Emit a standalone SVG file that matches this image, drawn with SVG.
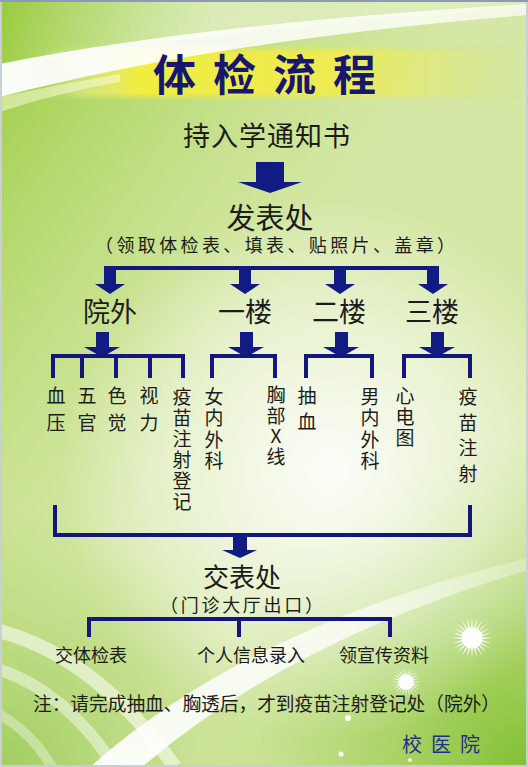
<svg xmlns="http://www.w3.org/2000/svg" xmlns:xlink="http://www.w3.org/1999/xlink" width="528" height="767" viewBox="0 0 528 767">
<defs>
<style>
.t{font-family:"Noto Sans CJK SC","Noto Sans",sans-serif;fill:#1c1c1c;}
.v{font-family:"Noto Sans CJK SC","Noto Sans",sans-serif;fill:#1c1c1c;font-size:19px;text-anchor:middle;}
.ln{fill:none;stroke:#13167a;stroke-width:4;stroke-linejoin:miter;stroke-linecap:butt;}
.ar{fill:#101c84;}
</style>
<linearGradient id="gTL" x1="0" y1="0" x2="1" y2="1">
<stop offset="0" stop-color="#97cb3c" stop-opacity="1"/>
<stop offset="0.45" stop-color="#b9db72" stop-opacity="0"/>
</linearGradient>
<radialGradient id="gW" cx="330" cy="470" r="270" gradientUnits="userSpaceOnUse">
<stop offset="0" stop-color="#ffffff" stop-opacity="0.95"/>
<stop offset="0.6" stop-color="#ffffff" stop-opacity="0.45"/>
<stop offset="1" stop-color="#ffffff" stop-opacity="0"/>
</radialGradient>
<radialGradient id="gBR" cx="528" cy="767" r="330" gradientUnits="userSpaceOnUse">
<stop offset="0" stop-color="#82c032" stop-opacity="1"/>
<stop offset="1" stop-color="#9ccd4a" stop-opacity="0"/>
</radialGradient>
<radialGradient id="gBL" cx="0" cy="767" r="260" gradientUnits="userSpaceOnUse">
<stop offset="0" stop-color="#9ccb5a" stop-opacity="0.9"/>
<stop offset="1" stop-color="#a8d060" stop-opacity="0"/>
</radialGradient>
<linearGradient id="gY" x1="0" y1="0" x2="1" y2="0">
<stop offset="0" stop-color="#fffbd0" stop-opacity="0"/>
<stop offset="0.2" stop-color="#f6ef3a" stop-opacity="0.9"/>
<stop offset="0.6" stop-color="#f1ec4a" stop-opacity="0.9"/>
<stop offset="1" stop-color="#e6ec70" stop-opacity="0"/>
</linearGradient>
<linearGradient id="gYv" x1="0" y1="0" x2="0" y2="1">
<stop offset="0" stop-color="#fff" stop-opacity="0"/>
<stop offset="0.15" stop-color="#fff" stop-opacity="1"/>
<stop offset="0.85" stop-color="#fff" stop-opacity="1"/>
<stop offset="1" stop-color="#fff" stop-opacity="0"/>
</linearGradient>
<mask id="mY" maskUnits="userSpaceOnUse" x="0" y="40" width="528" height="66">
<rect x="0" y="45" width="528" height="56" fill="url(#gYv)"/>
</mask>
<linearGradient id="gS" x1="0" y1="0" x2="1" y2="0">
<stop offset="0" stop-color="#ffffff" stop-opacity="0.95"/>
<stop offset="0.5" stop-color="#ffffff" stop-opacity="0.85"/>
<stop offset="1" stop-color="#ffffff" stop-opacity="0.7"/>
</linearGradient>
<linearGradient id="gTop" x1="0" y1="0" x2="1" y2="0">
<stop offset="0" stop-color="#ffffff" stop-opacity="0"/>
<stop offset="0.4" stop-color="#ffffff" stop-opacity="0.45"/>
<stop offset="1" stop-color="#ffffff" stop-opacity="0.2"/>
</linearGradient>
<linearGradient id="gB" x1="0" y1="1" x2="1" y2="0">
<stop offset="0" stop-color="#ffffff" stop-opacity="0.95"/>
<stop offset="0.6" stop-color="#ffffff" stop-opacity="0.75"/>
<stop offset="1" stop-color="#ffffff" stop-opacity="0.25"/>
</linearGradient>
<polygon id="ray" points="0,-1 0.07,0 0,1 -0.07,0" fill="#ffffff"/>
<g id="spark">
<use xlink:href="#ray"/>
<use xlink:href="#ray" transform="rotate(15)"/>
<use xlink:href="#ray" transform="rotate(30)"/>
<use xlink:href="#ray" transform="rotate(45)"/>
<use xlink:href="#ray" transform="rotate(60)"/>
<use xlink:href="#ray" transform="rotate(75)"/>
<use xlink:href="#ray" transform="rotate(90)"/>
<use xlink:href="#ray" transform="rotate(105)"/>
<use xlink:href="#ray" transform="rotate(120)"/>
<use xlink:href="#ray" transform="rotate(135)"/>
<use xlink:href="#ray" transform="rotate(150)"/>
<use xlink:href="#ray" transform="rotate(165)"/>
<circle r="0.5" fill="#ffffff"/>
</g>
</defs>

<g id="background">
<rect width="528" height="767" fill="#d4e7a4"/>
<rect width="528" height="767" fill="url(#gTL)"/>
<rect width="528" height="767" fill="url(#gBR)"/>
<rect width="528" height="767" fill="url(#gBL)"/>
<rect width="528" height="767" fill="url(#gW)"/>
<path d="M0 0 H528 V8 Q220 28 0 66 Z" fill="url(#gTop)"/>
<rect x="40" y="45" width="488" height="56" fill="url(#gY)" mask="url(#mY)"/>
<path d="M0 64 Q200 24 528 4 L528 15 Q220 40 0 97 Z" fill="url(#gS)"/>
<path d="M0 97 Q60 84 120 74 L120 82 Q60 92 0 112 Z" fill="#fffbe0" opacity="0.5"/>
<path d="M-5 630 Q95 655 175 767" fill="none" stroke="#ffffff" stroke-opacity="0.55" stroke-width="14"/>
<path d="M-5 668 Q65 690 115 767" fill="none" stroke="#ffffff" stroke-opacity="0.45" stroke-width="12"/>
<path d="M-5 712 Q30 730 52 767" fill="none" stroke="#ffffff" stroke-opacity="0.35" stroke-width="10"/>
<path d="M90 767 Q250 625 528 558 L528 570 Q290 640 142 767 Z" fill="url(#gB)"/>
<use xlink:href="#spark" transform="translate(472,638) scale(21)"/>
<use xlink:href="#spark" transform="translate(406,682) scale(15)"/>
<circle cx="348" cy="718" r="3" fill="#ffffff"/>
<circle cx="341" cy="754" r="2.5" fill="#ffffff"/>
<circle cx="410" cy="760" r="2" fill="#ffffff" opacity="0.8"/>
<rect x="1" y="1" width="526" height="765" fill="none" stroke="#c9cfd6" stroke-width="2"/>
<rect x="0" y="0" width="528" height="2" fill="#8e98bb"/>
</g>

<g id="connectors">
<path class="ar" d="M256 162 H284 V182 H302 L270 193 L238 182 H256 Z"/>
<path class="ln" d="M104 268 H439"/>
<path class="ar" d="M104 266 H116 V284 H125 L110 294 L95 284 H104 Z"/>
<path class="ar" d="M239 266 H251 V284 H260 L245 294 L230 284 H239 Z"/>
<path class="ar" d="M334 266 H346 V284 H355 L340 294 L325 284 H334 Z"/>
<path class="ar" d="M427 266 H439 V284 H448 L433 294 L418 284 H427 Z"/>
<path class="ar" d="M96 332 H109 V347 H120 L102 357 L84 347 H96 Z"/>
<path class="ar" d="M240 332 H253 V347 H264 L246 357 L228 347 H240 Z"/>
<path class="ar" d="M335 332 H348 V347 H359 L341 357 L323 347 H335 Z"/>
<path class="ar" d="M431 332 H444 V347 H455 L437 357 L419 347 H431 Z"/>
<path class="ln" d="M53 378 V356 H183 V378 M82 356 V378 M116 356 V378 M150 356 V378"/>
<path class="ln" d="M212 378 V356 H275 V378"/>
<path class="ln" d="M306 378 V356 H372 V378"/>
<path class="ln" d="M404 378 V356 H470 V378"/>
<path class="ln" d="M55 505 V535 H470 V505"/>
<path class="ar" d="M233 535 H247 V550 H257 L240 558 L222 550 H233 Z"/>
<path class="ln" d="M89 637 V619 H390 V637 M239 619 V637"/>
</g>

<g id="title"><text class="t" x="153" y="91" font-size="43" font-weight="bold" letter-spacing="17" style="fill:#17176f">体检流程</text></g>
<g id="n-notice"><text class="t" x="267" y="146" font-size="27" text-anchor="middle" letter-spacing="1">持入学通知书</text></g>
<g id="n-fabiao">
<text class="t" x="270" y="229" font-size="29" text-anchor="middle">发表处</text>
<text class="t" x="95" y="252" font-size="18" textLength="360" lengthAdjust="spacing">（领取体检表、填表、贴照片、盖章）</text>
</g>
<g id="n-yuanwai"><text class="t" x="110" y="322" font-size="27" text-anchor="middle">院外</text></g>
<g id="n-yilou"><text class="t" x="245" y="322" font-size="27" text-anchor="middle">一楼</text></g>
<g id="n-erlou"><text class="t" x="339" y="322" font-size="27" text-anchor="middle">二楼</text></g>
<g id="n-sanlou"><text class="t" x="432" y="322" font-size="27" text-anchor="middle">三楼</text></g>

<g id="n-xueya"><text class="v"><tspan x="56" y="403">血</tspan><tspan x="56" y="430">压</tspan></text></g>
<g id="n-wuguan"><text class="v"><tspan x="87" y="403">五</tspan><tspan x="87" y="430">官</tspan></text></g>
<g id="n-sejue"><text class="v"><tspan x="117" y="403">色</tspan><tspan x="117" y="430">觉</tspan></text></g>
<g id="n-shili"><text class="v"><tspan x="149" y="403">视</tspan><tspan x="149" y="430">力</tspan></text></g>
<g id="n-yimiaodengji"><text class="v"><tspan x="182" y="404">疫</tspan><tspan x="182" y="425">苗</tspan><tspan x="182" y="446">注</tspan><tspan x="182" y="467">射</tspan><tspan x="182" y="488">登</tspan><tspan x="182" y="509">记</tspan></text></g>
<g id="n-nvneiwai"><text class="v"><tspan x="214" y="404">女</tspan><tspan x="214" y="425">内</tspan><tspan x="214" y="447">外</tspan><tspan x="214" y="468">科</tspan></text></g>
<g id="n-xiongbu"><text class="v"><tspan x="276" y="402">胸</tspan><tspan x="276" y="423">部</tspan><tspan x="276" y="443">X</tspan><tspan x="276" y="464">线</tspan></text></g>
<g id="n-chouxue"><text class="v"><tspan x="307" y="403">抽</tspan><tspan x="307" y="429">血</tspan></text></g>
<g id="n-nanneiwai"><text class="v"><tspan x="370" y="404">男</tspan><tspan x="370" y="425">内</tspan><tspan x="370" y="447">外</tspan><tspan x="370" y="468">科</tspan></text></g>
<g id="n-xindiantu"><text class="v"><tspan x="405" y="403">心</tspan><tspan x="405" y="424">电</tspan><tspan x="405" y="445">图</tspan></text></g>
<g id="n-yimiao"><text class="v"><tspan x="468" y="404">疫</tspan><tspan x="468" y="430">苗</tspan><tspan x="468" y="455">注</tspan><tspan x="468" y="481">射</tspan></text></g>

<g id="n-jiaobiao">
<text class="t" x="242" y="587" font-size="26" text-anchor="middle">交表处</text>
<text class="t" x="160" y="612" font-size="18" textLength="163" lengthAdjust="spacing">（门诊大厅出口）</text>
</g>
<g id="n-jiaotijian"><text class="t" x="91" y="662" font-size="18" text-anchor="middle">交体检表</text></g>
<g id="n-xinxi"><text class="t" x="251" y="662" font-size="18" text-anchor="middle">个人信息录入</text></g>
<g id="n-ziliao"><text class="t" x="384" y="662" font-size="18" text-anchor="middle">领宣传资料</text></g>
<g id="note"><text class="t" x="33" y="711" font-size="19" textLength="467" lengthAdjust="spacingAndGlyphs">注：请完成抽血、胸透后，才到疫苗注射登记处（院外）</text></g>
<g id="sign"><text class="t" x="402" y="752" font-size="20" letter-spacing="9" style="fill:#1f2d8f">校医院</text></g>
</svg>
